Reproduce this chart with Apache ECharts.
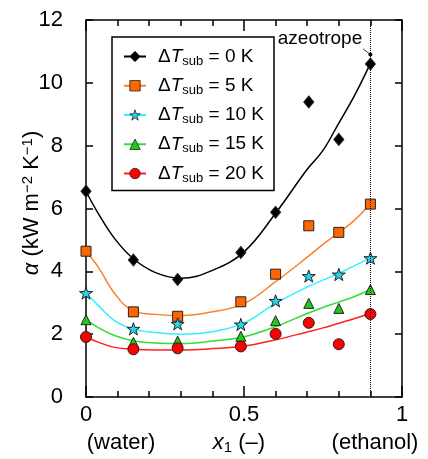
<!DOCTYPE html>
<html><head><meta charset="utf-8">
<script src="https://cdn.jsdelivr.net/npm/echarts@6/dist/echarts.min.js"></script>
<style>html,body{margin:0;padding:0;background:#fff}#c{width:428px;height:459px}</style>
</head><body><div id="c"></div>
<script>
// measured mole fractions of ethanol
const xData = [0, 0.15, 0.29, 0.49, 0.6, 0.705, 0.8, 0.9];
// measured heat transfer coefficients (kW m-2 K-1)
const alpha0  = [6.55, 4.36, 3.74, 4.60, 5.88, 9.39, 8.20, 10.60];
const alpha5  = [4.64, 2.71, 2.57, 3.03, 3.91, 5.45, 5.24, 6.14];
const alpha10 = [3.31, 2.17, 2.33, 2.31, 3.06, 3.85, 3.90, 4.42];
const alpha15 = [2.46, 1.74, 1.78, 1.93, 2.43, 2.98, 2.82, 3.42];
const alpha20 = [1.91, 1.52, 1.55, 1.61, 2.01, 2.36, 1.68, 2.64];
// fitted curves
const curveX = [0, 0.04, 0.09, 0.15, 0.22, 0.3, 0.4, 0.5, 0.6, 0.7, 0.75, 0.8, 0.85, 0.9];
const fit0  = [6.55, 5.82, 5.05, 4.40, 3.96, 3.78, 4.03, 4.62, 5.85, 7.25, 7.85, 8.72, 9.60, 10.62];
const fit5  = [4.64, 4.12, 3.30, 2.74, 2.63, 2.59, 2.71, 2.97, 3.67, 4.45, 4.86, 5.24, 5.63, 6.15];
const fit10 = [3.31, 2.90, 2.43, 2.16, 2.05, 2.00, 2.08, 2.35, 2.98, 3.50, 3.72, 3.94, 4.18, 4.43];
const fit15 = [2.46, 2.20, 1.96, 1.79, 1.72, 1.70, 1.78, 1.92, 2.24, 2.66, 2.85, 3.02, 3.20, 3.42];
const fit20 = [1.91, 1.74, 1.58, 1.52, 1.50, 1.50, 1.54, 1.62, 1.82, 2.07, 2.20, 2.35, 2.50, 2.66];
const subcooling = ['0', '5', '10', '15', '20'];
const azeotropeX = 0.9;
const azeoLeader = [[0.877, 11.08], [0.9, 10.9]];
const xMin = 0, xMax = 1, xStep = 0.5;
const yMin = 0, yMax = 12, yStep = 2;

const measured = [alpha0, alpha5, alpha10, alpha15, alpha20];
const fits = [fit0, fit5, fit10, fit15, fit20];
const names = subcooling.map(s => 'ΔTsub = ' + s + ' K');
const fills = ['#000000', '#ff6600', '#22d8ea', '#22c81a', '#ff0000'];
const lines = ['#000000', '#ff7f2a', '#33f0ff', '#33dd33', '#ff2020'];
const starPath = 'path://M50,0 L61.8,35.1 L98.9,35.1 L69,56.9 L80.3,91.9 L50,70.3 L19.7,91.9 L31,56.9 L1.1,35.1 L38.2,35.1 Z';
const symbols = ['diamond', 'rect', starPath, 'triangle', 'circle'];
const sizes = [[10, 12], 10, 13, 10, 11];
const FONT = 'Liberation Sans';

const series = [];
for (let i = 0; i < 5; i++) {
  series.push({
    type: 'line', name: names[i], smooth: 0.4, showSymbol: false,
    symbol: symbols[i], symbolKeepAspect: true,
    data: curveX.map((x, k) => [x, fits[i][k]]),
    lineStyle: { color: lines[i], width: 1.5 },
    itemStyle: { color: fills[i], borderColor: '#222', borderWidth: 1 },
    z: 2
  });
}
for (let i = 0; i < 5; i++) {
  series.push({
    type: 'scatter', name: names[i], symbol: symbols[i], symbolSize: sizes[i], symbolKeepAspect: true,
    data: xData.map((x, k) => [x, measured[i][k]]),
    itemStyle: { color: fills[i], borderColor: '#222', borderWidth: 1, opacity: 1 },
    z: 3
  });
}
series.push({
  type: 'line', name: 'azeotrope', data: azeoLeader, silent: true,
  symbol: 'circle', symbolSize: (v, p) => p.dataIndex === 1 ? 4 : 0,
  itemStyle: { color: '#000' }, lineStyle: { color: '#000', width: 0.8 },
  markLine: { silent: true, symbol: 'none', label: { show: false }, lineStyle: { color: '#000', type: 'dotted', width: 1 }, data: [{ xAxis: azeotropeX }] },
  z: 1
});

const axisCommon = {
  type: 'value', splitLine: { show: false },
  axisLine: { show: true, onZero: false, lineStyle: { color: '#000', width: 1.5 } },
};
const legendRich = {
  d: { fontSize: 19, fontFamily: FONT, lineHeight: 22, padding: [0, 0, 0, 7], color: '#000' },
  i: { fontSize: 19, fontFamily: FONT, fontStyle: 'italic', lineHeight: 22, color: '#000' },
  s: { fontSize: 13, fontFamily: FONT, lineHeight: 12, verticalAlign: 'bottom', color: '#000' },
  n: { fontSize: 19, fontFamily: FONT, lineHeight: 22, color: '#000' }
};

const chart = echarts.init(document.getElementById('c'), null, { renderer: 'canvas' });
chart.setOption({
  animation: false,
  backgroundColor: '#fff',
  grid: { left: 86, right: 26, top: 20, bottom: 62, containLabel: false, outerBoundsMode: 'none' },
  xAxis: [
    Object.assign({}, axisCommon, {
      position: 'bottom', min: xMin, max: xMax, interval: xStep,
      axisTick: { inside: true, length: 11, lineStyle: { color: '#000', width: 1.5 } },
      minorTick: { show: true, splitNumber: 5, length: 6, lineStyle: { color: '#000', width: 1.5 } },
      axisLabel: { fontSize: 22, fontFamily: FONT, color: '#000', margin: 7 }
    }),
    Object.assign({}, axisCommon, {
      position: 'top', min: xMin, max: xMax, interval: xStep,
      axisTick: { inside: true, length: 11, lineStyle: { color: '#000', width: 1.5 } },
      minorTick: { show: true, splitNumber: 5, length: 6, lineStyle: { color: '#000', width: 1.5 } },
      axisLabel: { show: false }
    })
  ],
  yAxis: [
    Object.assign({}, axisCommon, {
      position: 'left', min: yMin, max: yMax, interval: yStep,
      axisTick: { inside: true, length: 7, lineStyle: { color: '#000', width: 1.5 } },
      axisLabel: { fontSize: 22, fontFamily: FONT, color: '#000', margin: 23 }
    }),
    Object.assign({}, axisCommon, {
      position: 'right', min: yMin, max: yMax, interval: yStep,
      axisTick: { inside: true, length: 7, lineStyle: { color: '#000', width: 1.5 } },
      axisLabel: { show: false }
    })
  ],
  legend: {
    data: names, orient: 'vertical', left: 112, top: 37,
    padding: [10, 10, 6, 11], itemGap: 8.75, itemWidth: 22, itemHeight: 13,
    itemStyle: { borderWidth: 0.8 },
    backgroundColor: '#fff', borderColor: '#000', borderWidth: 1.5, borderRadius: 0,
    selectedMode: false,
    formatter: name => {
      const k = name.replace('ΔTsub = ', '');
      return '{d|Δ}{i|T}{s|sub}{n| = ' + k + '}';
    },
    textStyle: { rich: legendRich }
  },
  graphic: [
    { type: 'text', x: 32, y: 203, rotation: Math.PI / 2, style: { text: '{a|α}{n| (kW m}{p|−2}{n| K}{p|−1}{n|)}', align: 'center', verticalAlign: 'middle',
      rich: {
        a: { fontSize: 22, fontFamily: FONT, fontStyle: 'italic', lineHeight: 24, fill: '#000' },
        n: { fontSize: 22, fontFamily: FONT, lineHeight: 24, fill: '#000' },
        p: { fontSize: 15, fontFamily: FONT, lineHeight: 14, verticalAlign: 'top', fill: '#000' }
      } } },
    { type: 'text', x: 320, y: 39, style: { text: 'azeotrope', font: '19px "Liberation Sans"', fill: '#000', align: 'center', verticalAlign: 'middle' } },
    { type: 'text', x: 121, y: 443, style: { text: '(water)', font: '22px "Liberation Sans"', fill: '#000', align: 'center', verticalAlign: 'middle' } },
    { type: 'text', x: 375, y: 443, style: { text: '(ethanol)', font: '22px "Liberation Sans"', fill: '#000', align: 'center', verticalAlign: 'middle' } },
    { type: 'text', x: 239, y: 443, style: { text: '{i|x}{s|1}{n| (–)}', align: 'center', verticalAlign: 'middle',
      rich: {
        i: { fontSize: 22, fontFamily: FONT, fontStyle: 'italic', lineHeight: 24, fill: '#000' },
        s: { fontSize: 15, fontFamily: FONT, lineHeight: 13, verticalAlign: 'bottom', fill: '#000' },
        n: { fontSize: 22, fontFamily: FONT, lineHeight: 24, fill: '#000' }
      } } }
  ],
  series: series
});
</script></body></html>
